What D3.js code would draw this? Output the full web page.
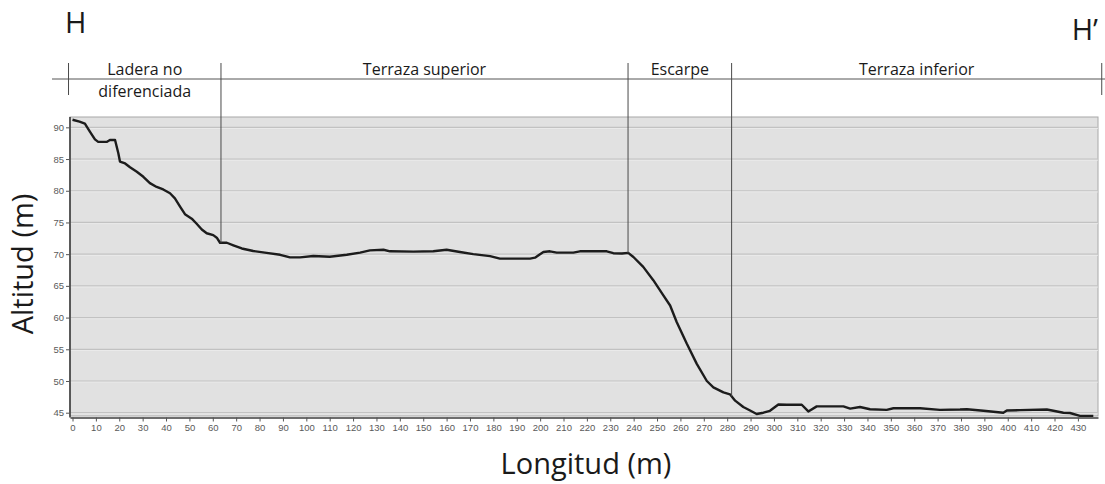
<!DOCTYPE html>
<html>
  <head>
    <meta charset="utf-8">
    <title>Perfil H-H'</title>
    <script src="https://d3js.org/d3.v7.min.js" charset="utf-8"></script>
    <style media="screen">
      html, body {
        margin: 0;
        padding: 0;
        background: #fff;
      }
      svg {
        display: block;
        font-family: "Open Sans", "Noto Sans", sans-serif;
      }
    </style>
  </head>
  <body>
    <div id="box"></div>
    <script type="text/javascript">
      // profile: distance (m) and altitude (m)
      var distance = [0, 3, 5.3, 7.5, 9.6, 11, 14.6, 16, 18.2, 19.6, 20.3, 22.5, 24.6, 27.5, 30.3, 33.1,
        36, 38.8, 41.7, 43.8, 46, 48.1, 51, 53.1, 55.3, 57.4, 60.2, 61.7, 63.1, 66, 68.8, 72.4,
        77.3, 83, 88.8, 93, 97.3, 103, 110, 117.3, 123, 127.2, 133, 135.8, 145.8, 154.3, 160,
        165.7, 171.4, 178.6, 182.8, 188.5, 195.7, 197.8, 201.4, 204.2, 207.1, 214.2, 217, 228.5,
        231.3, 235, 237.7, 239.9, 244.1, 248.4, 252.7, 255.6, 258.4, 262.7, 267, 271.3, 274.1,
        278.4, 281.2, 283.4, 286.9, 290, 292.6, 295.5, 298.3, 301.9, 305.5, 311.9, 314.7, 318.3,
        329.7, 332.6, 336.8, 341.1, 348.2, 351.1, 362.5, 371, 379.6, 382.5, 389.6, 398.1, 399.6,
        405.3, 416.7, 419.5, 423.8, 426.6, 430.9, 436.6];
      var altitude = [91.2, 90.9, 90.6, 89.3, 88.1, 87.7, 87.7, 88.0, 88.0, 85.9, 84.6, 84.3, 83.7, 83.0, 82.2, 81.2,
        80.6, 80.2, 79.6, 78.8, 77.5, 76.3, 75.6, 74.8, 73.9, 73.3, 73.0, 72.6, 71.8, 71.8, 71.4, 70.9,
        70.5, 70.2, 69.9, 69.5, 69.5, 69.7, 69.6, 69.9, 70.25, 70.6, 70.7, 70.45, 70.4, 70.45, 70.7,
        70.35, 70.0, 69.7, 69.3, 69.3, 69.3, 69.45, 70.35, 70.45, 70.25, 70.25, 70.45, 70.45,
        70.15, 70.1, 70.2, 69.55, 68.0, 65.9, 63.5, 61.9, 59.3, 55.9, 52.7, 50.0, 49.0,
        48.2, 47.9, 46.9, 45.9, 45.3, 44.8, 45.0, 45.3, 46.3, 46.25, 46.25, 45.2, 46.0,
        46.0, 45.65, 45.9, 45.55, 45.45, 45.7, 45.7, 45.45, 45.5, 45.55, 45.3, 45.0, 45.35,
        45.4, 45.5, 45.3, 45.0, 44.95, 44.5, 44.5];

      // geomorphic units along the profile (edges in metres)
      var zoneNames = [["Ladera no", "diferenciada"], ["Terraza superior"], ["Escarpe"], ["Terraza inferior"]];
      var zoneEdges = [-1.7, 63.5, 237.6, 281.9, 440.2];

      var yTicks = [45, 50, 55, 60, 65, 70, 75, 80, 85, 90];
      var xTicks = d3.range(0, 431, 10);

      var width = 1105;
      var height = 484;
      var plotLeft = 70, plotRight = 1098, plotTop = 117, plotBottom = 416;

      var x = d3.scaleLinear().domain([-1.07, 438.6]).range([plotLeft, plotRight]);
      var y = d3.scaleLinear().domain([44.48, 91.63]).range([plotBottom, plotTop]);

      var svg = d3.select("div#box")
                  .append("svg")
                  .attr("width", width)
                  .attr("height", height);

      // plot background
      svg.append("rect")
         .attr("x", plotLeft)
         .attr("y", plotTop)
         .attr("width", plotRight - plotLeft)
         .attr("height", plotBottom - plotTop)
         .attr("fill", "#e1e1e1")
         .attr("stroke", "#a8a8a8")
         .attr("stroke-width", 1);

      // gridlines (dark line with a light one just under it)
      var grid = svg.append("g");
      grid.selectAll("line.g1")
          .data(yTicks)
          .enter().append("line")
          .attr("class", "g1")
          .attr("x1", plotLeft).attr("x2", plotRight)
          .attr("y1", function(d) { return y(d); })
          .attr("y2", function(d) { return y(d); })
          .attr("stroke", "#c2c2c2")
          .attr("stroke-width", 1.2);
      grid.selectAll("line.g2")
          .data(yTicks)
          .enter().append("line")
          .attr("class", "g2")
          .attr("x1", plotLeft).attr("x2", plotRight)
          .attr("y1", function(d) { return y(d) + 1.2; })
          .attr("y2", function(d) { return y(d) + 1.2; })
          .attr("stroke", "#ececec")
          .attr("stroke-width", 0.8);

      // axes
      var yAxis = svg.append("g")
                     .attr("transform", "translate(" + plotLeft + ",0)")
                     .call(d3.axisLeft(y).tickValues(yTicks).tickSize(4).tickPadding(2).tickSizeOuter(0));
      var xAxis = svg.append("g")
                     .attr("transform", "translate(0," + (plotBottom + 1.5) + ")")
                     .call(d3.axisBottom(x).tickValues(xTicks).tickSize(4).tickPadding(3).tickSizeOuter(0));
      [yAxis, xAxis].forEach(function(a) {
        a.attr("font-family", "'Liberation Sans', Arial, sans-serif").attr("font-size", 9.5);
        a.selectAll(".tick text").attr("fill", "#5a5a5a");
      });
      svg.selectAll(".domain").attr("stroke", "#3c3c3c").attr("stroke-width", 1.6);
      svg.selectAll(".tick line").attr("stroke", "#555");
      yAxis.select(".domain").attr("d", "M0," + plotTop + "V" + (plotBottom + 1.5));

      // profile line
      var pts = distance.map(function(d, i) { return [d, altitude[i]]; });
      var line = d3.line()
                   .x(function(d) { return x(d[0]); })
                   .y(function(d) { return y(d[1]); });
      svg.append("path")
         .datum(pts)
         .attr("d", line)
         .attr("fill", "none")
         .attr("stroke", "#1c1c1c")
         .attr("stroke-width", 2.4)
         .attr("stroke-linejoin", "round");

      // altitude on the profile at a given distance
      var bis = d3.bisector(function(d) { return d[0]; }).left;
      function altAt(d) {
        var i = Math.max(1, Math.min(pts.length - 1, bis(pts, d)));
        var a = pts[i - 1], b = pts[i];
        return a[1] + (b[1] - a[1]) * (d - a[0]) / (b[0] - a[0]);
      }

      // header: line, dividers, unit names
      var headY = 79, tickTop = 63, tickBottom = 95;
      svg.append("line")
         .attr("x1", 52).attr("x2", width)
         .attr("y1", headY).attr("y2", headY)
         .attr("stroke", "#555").attr("stroke-width", 1);

      svg.selectAll("line.div")
         .data(zoneEdges)
         .enter().append("line")
         .attr("class", "div")
         .attr("x1", function(d) { return x(d); })
         .attr("x2", function(d) { return x(d); })
         .attr("y1", tickTop)
         .attr("y2", function(d, i) {
           if (i == 0 || i == zoneEdges.length - 1) return tickBottom;
           return y(altAt(d));
         })
         .attr("stroke", "#4a4a4a")
         .attr("stroke-width", 1);

      var labels = svg.selectAll("text.zone")
                      .data(zoneNames)
                      .enter().append("text")
                      .attr("class", "zone")
                      .attr("text-anchor", "middle")
                      .attr("font-size", "16px")
                      .attr("fill", "#1a1a1a")
                      .attr("x", function(d, i) { return (x(zoneEdges[i]) + x(zoneEdges[i + 1])) / 2; })
                      .attr("y", 75);
      labels.selectAll("tspan")
            .data(function(d) { return d; })
            .enter().append("tspan")
            .attr("x", function() { return d3.select(this.parentNode).attr("x"); })
            .attr("dy", function(d, i) { return i == 0 ? 0 : 22; })
            .text(function(d) { return d; });

      // H and H'
      svg.append("text")
         .attr("x", 65).attr("y", 33)
         .attr("font-size", "29px")
         .attr("fill", "#1a1a1a")
         .text("H");
      svg.append("text")
         .attr("x", 1098).attr("y", 40)
         .attr("text-anchor", "end")
         .attr("font-size", "29px")
         .attr("fill", "#1a1a1a")
         .text("H\u2019");

      // axis titles
      svg.append("text")
         .attr("transform", "translate(33,264) rotate(-90)")
         .attr("text-anchor", "middle")
         .attr("font-size", "29px")
         .attr("fill", "#1a1a1a")
         .text("Altitud (m)");
      svg.append("text")
         .attr("x", 586).attr("y", 474)
         .attr("text-anchor", "middle")
         .attr("font-size", "29px")
         .attr("fill", "#1a1a1a")
         .text("Longitud (m)");
    </script>
  </body>
</html>
